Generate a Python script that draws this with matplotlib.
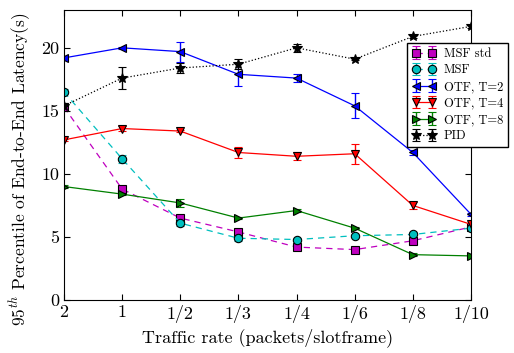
import numpy as np
import matplotlib.pyplot as plt

plt.rcParams['font.family'] = 'cmr10'
plt.rcParams['mathtext.fontset'] = 'cm'
plt.rcParams['axes.unicode_minus'] = False

rates = ['2', '1', '1/2', '1/3', '1/4', '1/6', '1/8', '1/10']

msf_std = [15.3, 8.8, 6.5, 5.4, 4.2, 4.0, 4.7, 5.8]
msf_std_err = [0.2, 0.2, 0.2, 0.2, 0.1, 0.1, 0.2, 0.2]
msf = [16.5, 11.2, 6.1, 4.9, 4.8, 5.1, 5.2, 5.7]
msf_err = [0.2, 0.3, 0.2, 0.2, 0.1, 0.1, 0.2, 0.2]
otf2 = [19.2, 20.0, 19.7, 17.9, 17.6, 15.4, 11.7, 6.8]
otf2_err = [0.1, 0.1, 0.8, 0.9, 0.3, 1.0, 0.2, 0.1]
otf4 = [12.7, 13.6, 13.4, 11.7, 11.4, 11.6, 7.5, 6.0]
otf4_err = [0.1, 0.2, 0.1, 0.4, 0.3, 0.8, 0.3, 0.1]
otf8 = [9.0, 8.4, 7.7, 6.5, 7.1, 5.7, 3.6, 3.5]
otf8_err = [0.1, 0.1, 0.3, 0.1, 0.1, 0.1, 0.1, 0.1]
pid = [15.4, 17.6, 18.4, 18.7, 20.0, 19.1, 20.9, 21.7]
pid_err = [0.2, 0.9, 0.4, 0.4, 0.3, 0.1, 0.1, 0.1]

x = np.arange(len(rates))

fig = plt.figure(figsize=(5.14, 3.53), dpi=100)
ax = fig.add_axes([0.1245, 0.150, 0.7918, 0.8217])

series = [
    (msf_std, msf_std_err, 'm', 's', (0, (5, 4)), 'MSF std'),
    (msf, msf_err, 'c', 'o', (0, (5, 4)), 'MSF'),
    (otf2, otf2_err, 'b', '<', '-', 'OTF, T=2'),
    (otf4, otf4_err, 'r', 'v', '-', 'OTF, T=4'),
    (otf8, otf8_err, 'g', '>', '-', 'OTF, T=8'),
    (pid, pid_err, 'k', '*', ':', 'PID'),
]

for vals, err, col, mk, ls, lab in series:
    ax.errorbar(x, vals, yerr=err, color=col, marker=mk, linestyle=ls,
                lw=0.9, markersize=7 if mk == '*' else 6, markerfacecolor=col,
                markeredgecolor='k', markeredgewidth=0.8,
                ecolor=col, elinewidth=1, capsize=3, label=lab)

ax.set_xlim(0, 7)
ax.set_ylim(0, 23)
ax.set_xticks(x)
ax.set_xticklabels(rates)
ax.set_yticks([0, 5, 10, 15, 20])
ax.tick_params(direction='in', top=True, right=True, labelsize=13, length=4)
ax.set_xlabel('Traffic rate (packets/slotframe)', fontsize=13)
ax.set_ylabel(r'95$^{th}$ Percentile of End-to-End Latency(s)', fontsize=12.5)
ax.yaxis.set_label_coords(-0.077, 0.45)

leg = ax.legend(loc='upper right', bbox_to_anchor=(1.091, 0.886), numpoints=2,
                fontsize=9, fancybox=False, framealpha=1, borderaxespad=0,
                handlelength=1.88, handletextpad=0.68, labelspacing=0.35,
                borderpad=0.38)
leg.get_frame().set_edgecolor('k')

fig.savefig('out.png', dpi=100)
